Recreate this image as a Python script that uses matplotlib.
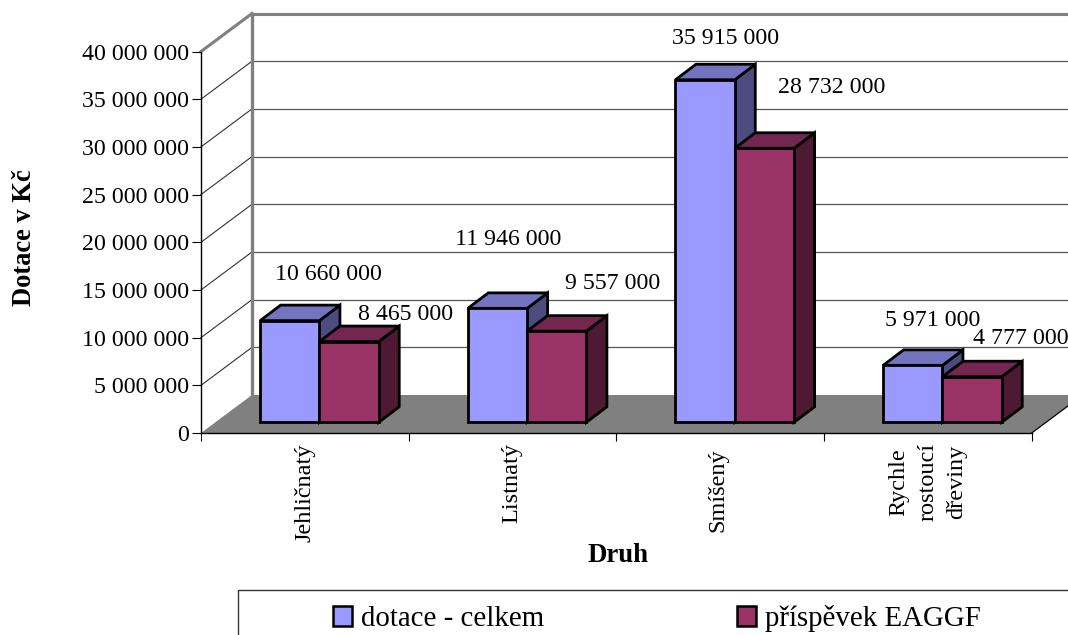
import matplotlib
matplotlib.use("Agg")
import matplotlib.pyplot as plt
from matplotlib.patches import Polygon, Patch
from matplotlib.lines import Line2D

categories = ["Jehličnatý", "Listnatý", "Smíšený", "Rychle\nrostoucí\ndřeviny"]
series_names = ["dotace - celkem", "příspěvek EAGGF"]
dotace = [10660000, 11946000, 35915000, 5971000]
prispevek = [8465000, 9557000, 28732000, 4777000]
dotace_labels = ["10 660 000", "11 946 000", "35 915 000", "5 971 000"]
prispevek_labels = ["8 465 000", "9 557 000", "28 732 000", "4 777 000"]
y_ticks = [0, 5000000, 10000000, 15000000, 20000000, 25000000, 30000000, 35000000, 40000000]
y_tick_labels = ["0", "5 000 000", "10 000 000", "15 000 000", "20 000 000",
                 "25 000 000", "30 000 000", "35 000 000", "40 000 000"]

W, H = 1068, 635
plt.rcParams['font.family'] = ['Liberation Serif', 'DejaVu Serif']
fig = plt.figure(figsize=(W / 100, H / 100), dpi=100)
AX_L, AX_T, AX_R, AX_B = 201, 51.5, 1031.7, 433
ax = fig.add_axes([AX_L / W, 1 - AX_B / H, (AX_R - AX_L) / W, (AX_B - AX_T) / H])
ax.set_xlim(0, 4)
ax.set_ylim(0, 40000000)
ax.patch.set_visible(False)

px = 4 / (AX_R - AX_L)
py = 40000000 / (AX_B - AX_T)

# wall / floor depth
wdx, wdy = 51 * px, 38 * py
floor = Polygon([(0, 0), (wdx, wdy), (4 + wdx, wdy), (4, 0)], closed=True,
                facecolor="#808080", edgecolor="none", clip_on=False, zorder=1)
ax.add_patch(floor)
ax.plot([4, 4 + wdx], [0, wdy], color="black", lw=0.9, clip_on=False, zorder=1.5)
for v in y_ticks[1:]:
    top = v == y_ticks[-1]
    col = "#808080" if top else "#333333"
    lw = 2.2 if top else 0.8
    ax.plot([0, wdx], [v, v + wdy], color=col, lw=lw, clip_on=False, zorder=1.2)
    ax.plot([wdx, 4 + wdx], [v + wdy, v + wdy], color="#808080" if top else "#555555",
            lw=lw if top else 0.9, clip_on=False, zorder=1.2)
ax.plot([wdx, wdx], [0 + wdy, 40000000 + wdy], color="#808080", lw=2.4, clip_on=False, zorder=1.3)

# bars
bw = 59.3 * px
sx, sy = 14.6 * px, 10.7 * py     # inset of the bars from the front edge
bdx, bdy = 20.5 * px, 15.5 * py   # bar depth


def bar(x0, v, face, top, side):
    x1 = x0 + bw
    y0 = sy
    y1 = sy + v
    kw = dict(closed=True, edgecolor="black", lw=2.0, joinstyle="miter", clip_on=False, zorder=3)
    ax.add_patch(Polygon([(x1, y0), (x1 + bdx, y0 + bdy), (x1 + bdx, y1 + bdy), (x1, y1)], facecolor=side, **kw))
    ax.add_patch(Polygon([(x0, y1), (x0 + bdx, y1 + bdy), (x1 + bdx, y1 + bdy), (x1, y1)], facecolor=top, **kw))
    ax.add_patch(Polygon([(x0, y0), (x1, y0), (x1, y1), (x0, y1)], facecolor=face, **kw))


LABEL_FS = 17.2
label_off_1 = [(39, 46), (11, 69), (20, 41), (20, 45)]
label_off_2 = [(56, 27), (56, 48), (67, 61), (49, 38)]
cat_off = [(0, -10), (-1, -10), (-2, -15), (0, -10)]
for i in range(len(categories)):
    c = i + 0.5 + sx
    bar(c - bw, dotace[i], "#9999FF", "#7373BF", "#4C4C80")
    bar(c, prispevek[i], "#993366", "#732650", "#4D1933")
    ax.annotate(dotace_labels[i], (c - bw / 2, sy + dotace[i]), xytext=label_off_1[i],
                textcoords="offset pixels", ha="center", va="center", fontsize=LABEL_FS,
                annotation_clip=False, zorder=5)
    ax.annotate(prispevek_labels[i], (c + bw / 2, sy + prispevek[i]), xytext=label_off_2[i],
                textcoords="offset pixels", ha="center", va="center", fontsize=LABEL_FS,
                annotation_clip=False, zorder=5)
    ax.annotate(categories[i], (i + 0.5, 0), xytext=cat_off[i], textcoords="offset pixels",
                rotation=90, ha="center", va="top", multialignment="center", linespacing=1.5,
                fontsize=17.5, annotation_clip=False)

# axes
for s in ("top", "right"):
    ax.spines[s].set_visible(False)
ax.spines["left"].set_linewidth(1.0)
ax.spines["bottom"].set_linewidth(1.0)
ax.spines["left"].set_zorder(2)
ax.spines["bottom"].set_zorder(2)
ax.set_yticks(y_ticks)
ax.set_yticklabels(y_tick_labels, fontsize=LABEL_FS)
ax.tick_params(axis="y", length=6.5, width=0.8, pad=2)
ax.set_xticks(range(5))
ax.set_xticklabels([])
ax.tick_params(axis="x", which="major", length=6, width=0.8)

fig.text(25 / W, 1 - 238 / H, "Dotace v Kč", rotation=90, ha="center", va="center",
         fontsize=19.1, fontweight="bold")
fig.text(618 / W, 1 - 555 / H, "Druh", ha="center", va="center",
         fontsize=19.3, fontweight="bold")

# legend frame (runs off the figure on the right and at the bottom)
fig.add_artist(Line2D([238 / W, 238 / W, 1.02], [-0.02, 1 - 590 / H, 1 - 590 / H],
                      color="#333333", lw=1.0, transform=fig.transFigure))
handles = [Patch(facecolor="#9999FF", edgecolor="black", lw=1.8),
           Patch(facecolor="#993366", edgecolor="black", lw=1.8)]
fig.legend(handles, series_names, loc="upper left", bbox_to_anchor=(333 / W, 1 - 605 / H),
           ncol=2, frameon=False, fontsize=20.8, borderpad=0, borderaxespad=0,
           handlelength=0.66, handleheight=0.66, handletextpad=0.3, columnspacing=6.7,
           labelspacing=0)

fig.savefig("out.png", dpi=100)
